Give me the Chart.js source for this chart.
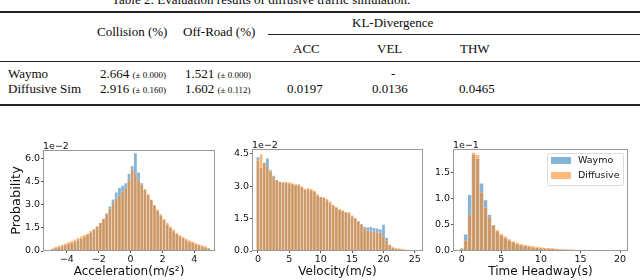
<!DOCTYPE html>
<html>
<head>
<meta charset="utf-8">
<script src="https://cdn.jsdelivr.net/npm/chart.js@4.4.1/dist/chart.umd.min.js"></script>
<style>
  html, body { margin: 0; padding: 0; background: #fff; }
  #page { position: relative; width: 640px; height: 280px; overflow: hidden; }
  .t { position: absolute; font-family: "Liberation Serif", "Times New Roman", serif; font-size: 13px; line-height: 13px; color: #0a0a0a; white-space: nowrap; }
  .s { font-size: 9px; }
  .rule { position: absolute; left: 0; width: 640px; background: #222; }
  canvas { position: absolute; top: 130px; }
</style>
</head>
<body>
<div id="page">
  <div class="t" style="left:112px; top:-7px;">Table 2: Evaluation results of diffusive traffic simulation.</div>
  <div class="rule" style="top:11px; height:2px;"></div>

  <div class="t" style="left:352px; top:16px;">KL-Divergence</div>
  <div class="t" style="left:97px; top:25px;">Collision (%)</div>
  <div class="t" style="left:183px; top:25px;">Off-Road (%)</div>
  <div class="rule" style="top:34px; height:1px; left:268px; width:372px;"></div>
  <div class="t" style="left:293px; top:42px;">ACC</div>
  <div class="t" style="left:377px; top:42px;">VEL</div>
  <div class="t" style="left:460px; top:42px;">THW</div>
  <div class="rule" style="top:61px; height:1px;"></div>

  <div class="t" style="left:8px; top:67px;">Waymo</div>
  <div class="t" style="left:100px; top:67px;">2.664 <span class="s">(± 0.000)</span></div>
  <div class="t" style="left:185px; top:67px;">1.521 <span class="s">(± 0.000)</span></div>
  <div class="t" style="left:391px; top:67px;">-</div>

  <div class="t" style="left:8px; top:82px;">Diffusive Sim</div>
  <div class="t" style="left:100px; top:82px;">2.916 <span class="s">(± 0.160)</span></div>
  <div class="t" style="left:185px; top:82px;">1.602 <span class="s">(± 0.112)</span></div>
  <div class="t" style="left:287px; top:82px;">0.0197</div>
  <div class="t" style="left:372px; top:82px;">0.0136</div>
  <div class="t" style="left:459px; top:82px;">0.0465</div>
  <div class="rule" style="top:104px; height:2px;"></div>

  <canvas id="accChart" width="220" height="150" style="left:0px;"></canvas>
  <canvas id="velChart" width="210" height="150" style="left:220px;"></canvas>
  <canvas id="thwChart" width="210" height="150" style="left:430px;"></canvas>
</div>
<script>
// histogram bin centres and probabilities (in units of the axis offset, e.g. 1e-2)
const seriesNames = ["Waymo", "Diffusive"];

const accBins = [-4.9, -4.7, -4.5, -4.3, -4.1, -3.9, -3.7, -3.5, -3.3, -3.1,
    -2.9, -2.7, -2.5, -2.3, -2.1, -1.9, -1.7, -1.5, -1.3, -1.1,
    -0.9, -0.7, -0.5, -0.3, -0.1, 0.1, 0.3, 0.5, 0.7, 0.9,
    1.1, 1.3, 1.5, 1.7, 1.9, 2.1, 2.3, 2.5, 2.7, 2.9,
    3.1, 3.3, 3.5, 3.7, 3.9, 4.1, 4.3, 4.5, 4.7, 4.9];
const accWaymo = [0.12, 0.2, 0.26, 0.32, 0.38, 0.45, 0.52, 0.6, 0.7, 0.8,
    0.92, 1.05, 1.2, 1.38, 1.58, 1.82, 2.1, 2.45, 2.9, 3.35,
    3.8, 4.1, 4.25, 4.4, 5.0, 5.5, 6.35, 5.1, 4.4, 4.0,
    3.65, 3.3, 2.95, 2.6, 2.3, 2.0, 1.72, 1.48, 1.28, 1.1,
    0.95, 0.82, 0.7, 0.6, 0.52, 0.44, 0.37, 0.3, 0.24, 0.15];
const accDiffusive = [0.18, 0.28, 0.35, 0.42, 0.5, 0.58, 0.66, 0.75, 0.85, 0.95,
    1.05, 1.15, 1.3, 1.45, 1.62, 1.85, 2.1, 2.4, 2.75, 3.1,
    3.4, 3.6, 3.85, 4.1, 4.6, 5.3, 5.0, 4.6, 4.3, 4.0,
    3.7, 3.35, 3.0, 2.7, 2.4, 2.1, 1.85, 1.6, 1.4, 1.2,
    1.05, 0.92, 0.8, 0.7, 0.62, 0.52, 0.45, 0.38, 0.3, 0.2];
const accTicksX = [-4, -2, 0, 2, 4];
const accTicksY = [0, 1.5, 3, 4.5, 6];

const velBins = [0, 0.5, 1, 1.5, 2, 2.5, 3, 3.5, 4, 4.5,
    5, 5.5, 6, 6.5, 7, 7.5, 8, 8.5, 9, 9.5,
    10, 10.5, 11, 11.5, 12, 12.5, 13, 13.5, 14, 14.5,
    15, 15.5, 16, 16.5, 17, 17.5, 18, 18.5, 19, 19.5,
    20, 20.5, 21, 21.5, 22, 22.5, 23, 23.5, 24, 24.5];
const velWaymo = [4.35, 3.85, 4.1, 4.3, 3.75, 3.5, 3.3, 3.22, 3.18, 3.15,
    3.1, 3.1, 3.05, 3.05, 2.95, 2.85, 2.85, 2.8, 2.75, 2.55,
    2.5, 2.45, 2.35, 2.2, 2.1, 2.0, 1.9, 1.85, 1.8, 1.75,
    1.6, 1.5, 1.4, 1.25, 1.12, 1.1, 1.12, 1.08, 1.05, 1.0,
    1.22, 0.62, 0.3, 0.15, 0.1, 0.08, 0.06, 0.05, 0.04, 0.03];
const velDiffusive = [4.2, 4.5, 4.1, 3.9, 3.7, 3.45, 3.3, 3.22, 3.2, 3.22,
    3.2, 3.15, 3.1, 3.1, 3.0, 2.9, 2.92, 2.88, 2.8, 2.65,
    2.52, 2.5, 2.42, 2.3, 2.15, 2.05, 1.95, 1.9, 1.82, 1.8,
    1.65, 1.55, 1.38, 1.25, 1.05, 0.95, 0.92, 0.9, 0.88, 0.85,
    0.7, 0.5, 0.3, 0.2, 0.15, 0.12, 0.1, 0.08, 0.07, 0.05];
const velTicksX = [0, 5, 10, 15, 20, 25];
const velTicksY = [0, 1.5, 3, 4.5];

const thwBins = [0, 0.5, 1, 1.5, 2, 2.5, 3, 3.5, 4, 4.5,
    5, 5.5, 6, 6.5, 7, 7.5, 8, 8.5, 9, 9.5,
    10, 10.5, 11, 11.5, 12, 12.5, 13, 13.5, 14, 14.5,
    15, 15.5, 16, 16.5, 17, 17.5, 18, 18.5, 19, 19.5];
const thwWaymo = [0.05, 0.32, 1.08, 1.85, 1.77, 1.3, 0.98, 0.7, 0.5, 0.38,
    0.3, 0.25, 0.2, 0.16, 0.13, 0.11, 0.095, 0.08, 0.07, 0.06,
    0.05, 0.045, 0.04, 0.036, 0.032, 0.028, 0.025, 0.022, 0.02, 0.018,
    0.016, 0.014, 0.013, 0.012, 0.011, 0.01, 0.009, 0.008, 0.007, 0.006];
const thwDiffusive = [0.05, 0.2, 0.7, 1.89, 1.85, 1.13, 0.84, 0.65, 0.5, 0.4,
    0.33, 0.28, 0.23, 0.19, 0.16, 0.14, 0.12, 0.11, 0.095, 0.085,
    0.075, 0.068, 0.06, 0.054, 0.048, 0.043, 0.038, 0.034, 0.03, 0.027,
    0.024, 0.021, 0.018, 0.016, 0.014, 0.012, 0.01, 0.009, 0.008, 0.007];
const thwTicksX = [0, 5, 10, 15, 20];
const thwTicksY = [0, 0.5, 1, 1.5];

const waymoFill = "rgba(31, 119, 180, 0.55)";
const diffusiveFill = "rgba(255, 127, 14, 0.55)";
const barEdge = "rgba(255, 255, 255, 0.35)";
const tickFont = { family: "DejaVu Sans", size: 9.5 };
const titleFont = { family: "DejaVu Sans", size: 12 };

Chart.defaults.font.family = "DejaVu Sans";

// full box around the plot area, like matplotlib spines
const framePlugin = {
    id: "frame",
    afterDatasetsDraw(chart) {
        const { ctx, chartArea: a } = chart;
        ctx.save();
        ctx.strokeStyle = "#999";
        ctx.lineWidth = 1;
        ctx.strokeRect(a.left + 0.5, a.top + 0.5, a.width - 1, a.height - 1);
        ctx.restore();
    },
};

// the "1e-2" scale text above the y axis
function offsetTextPlugin(text) {
    return {
        id: "offsetText",
        afterDraw(chart) {
            const { ctx, chartArea } = chart;
            ctx.save();
            ctx.font = "9.5px 'DejaVu Sans'";
            ctx.fillStyle = "#111";
            ctx.textBaseline = "alphabetic";
            ctx.fillText(text, chartArea.left, chartArea.top - 1.5);
            ctx.restore();
        },
    };
}

// legend box drawn inside the plot, top right
const legendPlugin = {
    id: "boxLegend",
    afterDraw(chart) {
        const { ctx, chartArea } = chart;
        const x = chartArea.right - 81;
        const y = chartArea.top + 4;
        ctx.save();
        ctx.fillStyle = "rgba(255, 255, 255, 0.8)";
        ctx.strokeStyle = "#dcdcdc";
        ctx.lineWidth = 1;
        ctx.beginPath();
        ctx.roundRect(x + 0.5, y + 0.5, 76, 32, 2);
        ctx.fill();
        ctx.stroke();
        ctx.font = "9.5px 'DejaVu Sans'";
        ctx.textBaseline = "middle";
        chart.data.datasets.forEach((ds, i) => {
            const rowY = y + 7 + i * 15;
            ctx.fillStyle = ds.backgroundColor;
            ctx.fillRect(x + 4, rowY - 3, 20, 7);
            ctx.fillStyle = "#111";
            ctx.fillText(ds.label, x + 31, rowY + 0.5);
        });
        ctx.restore();
    },
};

function toPoints(bins, values) {
    return bins.map((b, i) => ({ x: b, y: values[i] }));
}

function histChart(id, cfg) {
    const ctx = document.getElementById(id).getContext("2d");
    const plugins = [framePlugin, offsetTextPlugin(cfg.offsetText)];
    if (cfg.legend) plugins.push(legendPlugin);

    return new Chart(ctx, {
        type: "bar",
        data: {
            datasets: [
                {
                    label: seriesNames[0],
                    data: toPoints(cfg.bins, cfg.waymo),
                    backgroundColor: waymoFill,
                    borderColor: barEdge,
                    borderWidth: 0.5,
                    order: 2,
                },
                {
                    label: seriesNames[1],
                    data: toPoints(cfg.bins, cfg.diffusive),
                    backgroundColor: diffusiveFill,
                    borderColor: barEdge,
                    borderWidth: 0.5,
                    order: 1,
                },
            ],
        },
        options: {
            responsive: false,
            animation: false,
            layout: { padding: cfg.padding },
            datasets: {
                bar: { grouped: false, barPercentage: 1, categoryPercentage: 1 },
            },
            plugins: {
                legend: { display: false },
                tooltip: { enabled: false },
            },
            scales: {
                x: {
                    type: "linear",
                    offset: false,
                    min: cfg.xMin,
                    max: cfg.xMax,
                    afterBuildTicks: (axis) => {
                        axis.ticks = cfg.ticksX.map((v) => ({ value: v }));
                    },
                    afterFit: (axis) => {
                        axis.height = 29;
                    },
                    grid: { display: true, drawOnChartArea: false, tickLength: 2, color: "#555", offset: false },
                    border: { display: false },
                    ticks: {
                        font: tickFont,
                        color: "#111",
                        padding: 1,
                        maxRotation: 0,
                        autoSkip: false,
                        callback: (v) => (v < 0 ? "\u2212" + Math.abs(v) : String(v)),
                    },
                    title: {
                        display: true,
                        text: cfg.xTitle,
                        font: titleFont,
                        color: "#111",
                        padding: { top: 0, bottom: 1 },
                    },
                },
                y: {
                    min: 0,
                    max: cfg.yMax,
                    afterBuildTicks: (axis) => {
                        axis.ticks = cfg.ticksY.map((v) => ({ value: v }));
                    },
                    afterFit: (axis) => {
                        axis.width = cfg.yWidth;
                    },
                    grid: { display: true, drawOnChartArea: false, tickLength: 2, color: "#555" },
                    border: { display: false },
                    ticks: {
                        font: tickFont,
                        color: "#111",
                        padding: 1,
                        callback: (v) => v.toFixed(1),
                    },
                    title: {
                        display: !!cfg.yTitle,
                        text: cfg.yTitle || "",
                        font: { family: "DejaVu Sans", size: 13 },
                        color: "#111",
                        padding: { top: 9, bottom: 0 },
                    },
                },
            },
        },
        plugins: plugins,
    });
}

document.addEventListener("DOMContentLoaded", function () {
    histChart("accChart", {
        bins: accBins, waymo: accWaymo, diffusive: accDiffusive,
        ticksX: accTicksX, ticksY: accTicksY,
        xMin: -5.5, xMax: 5.3, yMax: 6.55,
        xTitle: "Acceleration(m/s²)", yTitle: "Probability", offsetText: "1e\u22122",
        yWidth: 43, padding: { left: 0, right: 5, top: 20, bottom: 0 },
    });

    histChart("velChart", {
        bins: velBins, waymo: velWaymo, diffusive: velDiffusive,
        ticksX: velTicksX, ticksY: velTicksY,
        xMin: -0.95, xMax: 26.3, yMax: 4.73,
        xTitle: "Velocity(m/s)", offsetText: "1e\u22122",
        yWidth: 32, padding: { left: 0, right: 7, top: 19, bottom: 0 },
    });

    histChart("thwChart", {
        bins: thwBins, waymo: thwWaymo, diffusive: thwDiffusive,
        ticksX: thwTicksX, ticksY: thwTicksY,
        xMin: -1.1, xMax: 21.0, yMax: 1.96,
        xTitle: "Time Headway(s)", offsetText: "1e\u22121", legend: true,
        yWidth: 23, padding: { left: 0, right: 12, top: 19, bottom: 0 },
    });
});
</script>
</body>
</html>
